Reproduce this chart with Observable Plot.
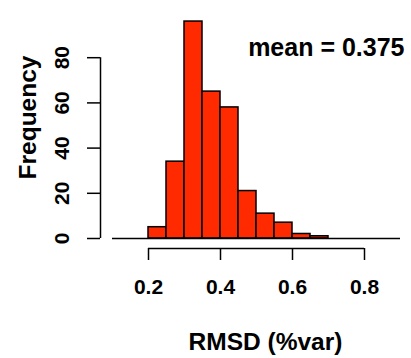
<!DOCTYPE html>
<html>
<head>
<meta charset="utf-8">
<script src="https://cdn.jsdelivr.net/npm/d3@7"></script>
<script src="https://cdn.jsdelivr.net/npm/@observablehq/plot@0.6"></script>
<style>
  html, body { margin: 0; padding: 0; background: #fff; }
  #chart svg { display: block; }
</style>
</head>
<body>
<div id="chart"></div>
<script>
// Histogram bins (left edges), width 0.05
const binStarts = [0.10, 0.15, 0.20, 0.25, 0.30, 0.35, 0.40, 0.45, 0.50, 0.55, 0.60, 0.65, 0.70, 0.75, 0.80, 0.85];
const counts    = [0,    0,    5,    34,   96,   65,   58,   21,   11,   7,    2,    1,    0,    0,    0,    0];
const binWidth = 0.05;
const xTicks = [0.2, 0.4, 0.6, 0.8];
const yTicks = [0, 20, 40, 60, 80];
const xLabel = "RMSD (%var)";
const yLabel = "Frequency";
const note = "mean = 0.375";

const bins = binStarts.map((s, i) => ({x1: s, x2: s + binWidth, count: counts[i]}));
const xMin = binStarts[0];
const xMax = binStarts[binStarts.length - 1] + binWidth;

const font = "'Liberation Sans', Arial, Helvetica, sans-serif";

const chart = Plot.plot({
  width: 411,
  height: 358,
  marginLeft: 112,
  marginRight: 11,
  marginTop: 12,
  marginBottom: 120,
  style: {fontFamily: font, fontWeight: "bold", color: "black", background: "white"},
  x: {domain: [xMin, xMax], axis: null},
  y: {domain: [0, 100], axis: null},
  marks: [
    Plot.rectY(bins.filter(d => d.count > 0), {x1: "x1", x2: "x2", y: "count", fill: "#ff2a00", stroke: "black", strokeWidth: 1.5}),
    Plot.ruleY([0], {x1: xMin, x2: xMax, stroke: "black", strokeWidth: 1.5}),
    // y axis
    Plot.ruleX([xMin], {y1: yTicks[0], y2: yTicks[yTicks.length - 1], dx: -12, stroke: "black", strokeWidth: 1.5}),
    Plot.axisY({ticks: yTicks, tickSize: 13, dx: -12, tickRotate: -90, fontSize: 21, fontWeight: "bold", tickPadding: 19, strokeWidth: 1.5, label: null}),
    // x axis
    Plot.ruleY([0], {x1: xTicks[0], x2: xTicks[xTicks.length - 1], dy: 10, stroke: "black", strokeWidth: 1.5}),
    Plot.axisX({ticks: xTicks, tickSize: 12, dy: 10, fontSize: 21, fontWeight: "bold", tickPadding: 19, strokeWidth: 1.5, label: null}),
    // titles
    Plot.text([yLabel], {frameAnchor: "left", textAnchor: "middle", rotate: -90, dx: -84, dy: -8, fontSize: 24.5, fontWeight: "bold", fill: "black"}),
    Plot.text([xLabel], {frameAnchor: "bottom", dx: 9, dy: 111, fontSize: 24.5, fontWeight: "bold", fill: "black"}),
    Plot.text([note], {frameAnchor: "top-right", textAnchor: "end", lineAnchor: "middle", dx: 4, dy: 35, fontSize: 25, fontWeight: "bold", fill: "black"})
  ]
});
document.getElementById("chart").appendChild(chart);
</script>
</body>
</html>
